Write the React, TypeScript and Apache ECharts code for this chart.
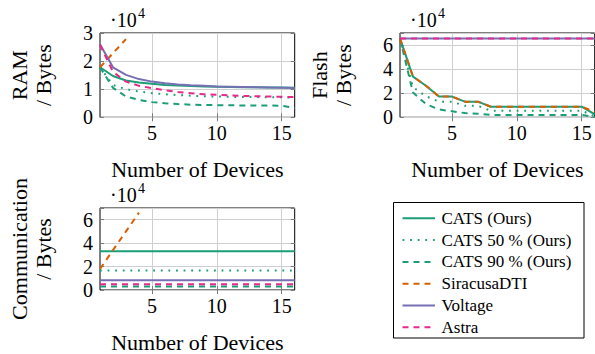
import React, { useEffect, useRef } from "react";
import * as echarts from "echarts";

const devices = [1, 2, 3, 4, 5, 6, 7, 8, 9, 10, 11, 12, 13, 14, 15, 16];
const xTicks = [5, 10, 15];

const seriesNames = ["CATS (Ours)", "CATS 50 % (Ours)", "CATS 90 % (Ours)", "SiracusaDTI", "Voltage", "Astra"];

// RAM (x 10^4 bytes)
const ramCats = [1.78, 1.47, 1.31, 1.24, 1.19, 1.15, 1.13, 1.11, 1.10, 1.09, 1.08, 1.07, 1.07, 1.06, 1.06, 1.05];
const ramCats50 = [1.78, 1.15, 1.0, 0.92, 0.86, 0.82, 0.79, 0.77, 0.75, 0.74, 0.73, 0.72, 0.72, 0.71, 0.71, 0.7];
const ramCats90 = [1.78, 1.05, 0.74, 0.62, 0.54, 0.5, 0.47, 0.45, 0.44, 0.43, 0.43, 0.42, 0.42, 0.42, 0.41, 0.33];
const ramSiracusa = [1.78, 2.28, 2.78];
const ramVoltage = [2.6, 1.78, 1.51, 1.36, 1.27, 1.21, 1.17, 1.14, 1.12, 1.1, 1.09, 1.08, 1.07, 1.06, 1.05, 1.04];
const ramAstra = [2.58, 1.62, 1.27, 1.12, 1.04, 0.96, 0.9, 0.86, 0.82, 0.8, 0.78, 0.76, 0.75, 0.74, 0.73, 0.72];

// Flash (x 10^4 bytes)
const flashCats = [6.55, 3.38, 2.62, 1.72, 1.72, 1.3, 1.3, 0.88, 0.88, 0.88, 0.88, 0.88, 0.88, 0.88, 0.88, 0.25];
const flashCats50 = [6.55, 2.5, 1.75, 1.3, 1.3, 0.95, 0.95, 0.55, 0.55, 0.55, 0.55, 0.55, 0.55, 0.55, 0.55, 0.08];
const flashCats90 = [6.55, 2.05, 1.1, 0.65, 0.5, 0.35, 0.3, 0.2, 0.2, 0.2, 0.2, 0.2, 0.2, 0.2, 0.2, 0.03];
const flashSiracusa = [6.55, 3.38, 2.62, 1.72, 1.72, 1.3, 1.3, 0.88, 0.88, 0.88, 0.88, 0.88, 0.88, 0.88, 0.88, 0.45];
const flashVoltage = [6.55, 6.55, 6.55, 6.55, 6.55, 6.55, 6.55, 6.55, 6.55, 6.55, 6.55, 6.55, 6.55, 6.55, 6.55, 6.55];
const flashAstra = [6.55, 6.55, 6.55, 6.55, 6.55, 6.55, 6.55, 6.55, 6.55, 6.55, 6.55, 6.55, 6.55, 6.55, 6.55, 6.55];

// Communication (x 10^4 bytes)
const commCats = [3.3, 3.3, 3.3, 3.3, 3.3, 3.3, 3.3, 3.3, 3.3, 3.3, 3.3, 3.3, 3.3, 3.3, 3.3, 3.3];
const commCats50 = [1.67, 1.67, 1.67, 1.67, 1.67, 1.67, 1.67, 1.67, 1.67, 1.67, 1.67, 1.67, 1.67, 1.67, 1.67, 1.67];
const commCats90 = [0.3, 0.3, 0.3, 0.3, 0.3, 0.3, 0.3, 0.3, 0.3, 0.3, 0.3, 0.3, 0.3, 0.3, 0.3, 0.3];
const commSiracusa = [1.8, 3.4, 5.0, 6.6];
const commVoltage = [0.83, 0.83, 0.83, 0.83, 0.83, 0.83, 0.83, 0.83, 0.83, 0.83, 0.83, 0.83, 0.83, 0.83, 0.83, 0.83];
const commAstra = [0.5, 0.5, 0.5, 0.5, 0.5, 0.5, 0.5, 0.5, 0.5, 0.5, 0.5, 0.5, 0.5, 0.5, 0.5, 0.5];

const GREEN = "#1b9e77";
const ORANGE = "#d95f02";
const PURPLE = "#7570b3";
const PINK = "#e7298a";
const SERIF = "Liberation Serif";

const styles: any[] = [
  { color: GREEN, type: "solid" },
  { color: GREEN, type: [1.8, 5.8] },
  { color: GREEN, type: [6, 5] },
  { color: ORANGE, type: [6, 5] },
  { color: PURPLE, type: "solid" },
  { color: PINK, type: [6, 5] },
];

const panels = [
  { label: "RAM\n/ Bytes", max: 3, interval: 1, left: 100, top: 33, data: [ramCats, ramCats50, ramCats90, ramSiracusa, ramVoltage, ramAstra] },
  { label: "Flash\n/ Bytes", max: 7, interval: 2, left: 400, top: 33, data: [flashCats, flashCats50, flashCats90, flashSiracusa, flashVoltage, flashAstra] },
  { label: "Communication\n/ Bytes", max: 7, interval: 2, left: 100, top: 208, data: [commCats, commCats50, commCats90, commSiracusa, commVoltage, commAstra] },
];

const GW = 194.7;
const GH = 84.3;

export default function App() {
  const ref = useRef<HTMLDivElement>(null);
  useEffect(() => {
    if (!ref.current) return;
    const chart = echarts.init(ref.current, null, { renderer: "svg" });
    const grid: any[] = [];
    const xAxis: any[] = [];
    const yAxis: any[] = [];
    const series: any[] = [];
    const graphic: any[] = [];
    const tickStyle = { show: true, inside: true, length: 4, lineStyle: { color: "#7a7a7a", width: 1 } };
    const splitStyle = { show: true, lineStyle: { color: "#cfcfcf", width: 1 } };

    panels.forEach((p, i) => {
      grid.push({ left: p.left, top: p.top, width: GW, height: GH, show: true, borderColor: "#000", borderWidth: 1, backgroundColor: "transparent" });
      xAxis.push({
        type: "value", gridIndex: i, min: 1, max: 16, position: "bottom",
        axisLine: { show: false },
        axisTick: { ...tickStyle, customValues: xTicks },
        axisLabel: { customValues: xTicks, fontSize: 20, fontFamily: SERIF, color: "#000", margin: 6 },
        splitLine: splitStyle,
        name: "Number of Devices", nameLocation: "middle", nameGap: 41,
        nameTextStyle: { fontSize: 22, fontFamily: SERIF, color: "#000" },
      });
      yAxis.push({
        type: "value", gridIndex: i, min: 0, max: p.max, interval: p.interval, position: "left",
        axisLine: { show: false },
        axisTick: tickStyle,
        axisLabel: {
          fontSize: 20, fontFamily: SERIF, color: "#000", margin: 7,
          formatter: (v: number) => (p.max % p.interval !== 0 && v === p.max ? "" : String(v)),
        },
        splitLine: splitStyle,
        name: p.label, nameLocation: "middle", nameGap: 45, nameRotate: 90,
        nameTextStyle: { fontSize: 22, lineHeight: 24, fontFamily: SERIF, color: "#000", align: "center" },
      });
      graphic.push({ type: "text", left: p.left + 10, top: p.top - 23, style: { text: "·10", fontSize: 20, fontFamily: SERIF, fill: "#000" } });
      graphic.push({ type: "text", left: p.left + 38, top: p.top - 27, style: { text: "4", fontSize: 14, fontFamily: SERIF, fill: "#000" } });
    });
    // top & right tick-only axes
    panels.forEach((p, i) => {
      xAxis.push({
        type: "value", gridIndex: i, min: 1, max: 16, position: "top",
        axisLine: { show: false }, axisTick: { ...tickStyle, customValues: xTicks },
        axisLabel: { show: false, customValues: xTicks }, splitLine: { show: false },
      });
      yAxis.push({
        type: "value", gridIndex: i, min: 0, max: p.max, interval: p.interval, position: "right",
        axisLine: { show: false }, axisTick: tickStyle, axisLabel: { show: false }, splitLine: { show: false },
      });
    });

    panels.forEach((p, i) => {
      p.data.forEach((vals, k) => {
        series.push({
          type: "line", name: seriesNames[k], xAxisIndex: i, yAxisIndex: i,
          data: vals.map((v, j) => [devices[j], v]),
          symbol: "none", showSymbol: false, clip: true,
          lineStyle: { color: styles[k].color, type: styles[k].type, width: 2 },
          itemStyle: { color: styles[k].color },
        });
      });
    });

    // legend box (manual, to keep line-style samples)
    graphic.push({ type: "rect", shape: { x: 393.5, y: 202.5, width: 190.5, height: 135.5 }, style: { fill: "none", stroke: "#000", lineWidth: 1 }, silent: true });
    seriesNames.forEach((name, k) => {
      const cy = 218.3 + k * 21.8;
      graphic.push({
        type: "line", shape: { x1: 402.5, y1: cy, x2: 435, y2: cy },
        style: { stroke: styles[k].color, lineWidth: 2, lineDash: styles[k].type === "solid" ? null : styles[k].type },
        silent: true,
      });
      graphic.push({
        type: "text", x: 441.5, y: cy,
        style: { text: name, fontSize: 17, fontFamily: SERIF, fill: "#000", verticalAlign: "middle", align: "left" },
        silent: true,
      });
    });

    chart.setOption({
      animation: false,
      grid, xAxis, yAxis, series, graphic,
    });
    return () => chart.dispose();
  }, []);
  return <div ref={ref} style={{ width: 595, height: 354, position: "absolute", left: 0, top: 0 }} />;
}
